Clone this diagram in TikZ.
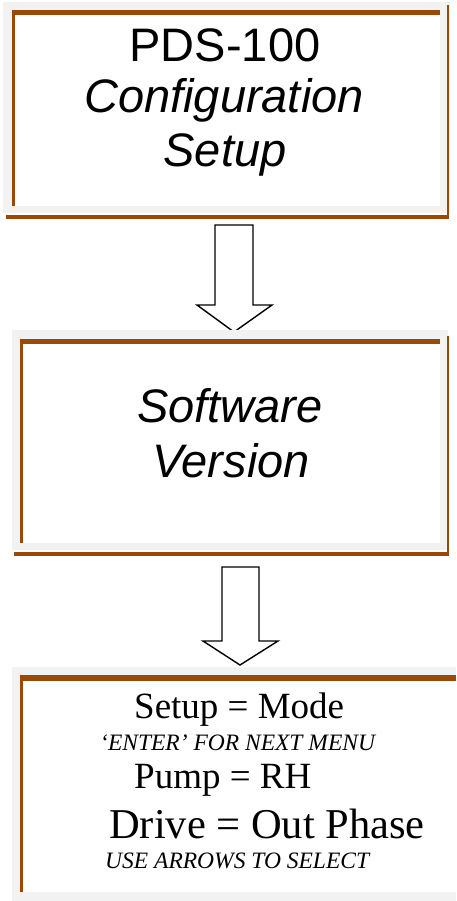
\documentclass[tikz,border=0pt]{standalone}
\usepackage{fontspec}
\setmainfont{Liberation Sans}
\newfontfamily\serifx{Liberation Serif}
\definecolor{brn}{HTML}{984807}
\definecolor{bgg}{HTML}{F2F2F2}
\tikzset{
  panel/.style={fill=bgg, draw=none, inner sep=0, anchor=north west},
  inner/.style={fill=white},
  rim/.style={fill=brn},
  blockarrow/.style={draw=black, fill=white, line width=1.4pt, line join=miter},
  txt/.style={inner sep=0, anchor=base},
  ltxt/.style={inner sep=0, anchor=base west}
}
\begin{document}
\begin{tikzpicture}[x=1pt,y=-1pt]
\useasboundingbox (0,0) rectangle (456,901);
\fill[white] (0,0) rectangle (456,901);
% ---- box 1
\node[panel, minimum width=447pt, minimum height=211pt] (b1) at (3,2) {};
\fill[inner] (14,13) rectangle (440,206);
\fill[rim] (12,10) rectangle (440,15);
\fill[rim] (12,10) rectangle (15,206);
\fill[rim] (6,215) rectangle (449,219);
\fill[rim] (447,5) rectangle (449,219);
\node[txt, font=\fontsize{47}{53}\selectfont] (t1a) at (225,62) {PDS-100};
\node[txt, font=\fontsize{47}{53}\selectfont\itshape] (t1b) at (224,113) {Configuration};
\node[txt, font=\fontsize{47}{53}\selectfont\itshape] (t1c) at (225,167) {Setup};
% ---- arrow 1
\draw[blockarrow] (215,225) -- (253,225) -- (253,305) -- (272,305) -- (234,332) -- (197,305) -- (215,305) -- cycle;
% ---- box 2
\node[panel, minimum width=436pt, minimum height=220pt] (b2) at (12,330) {};
\fill[inner] (22,344) rectangle (440,543);
\fill[rim] (20,339) rectangle (440,344);
\fill[rim] (20,339) rectangle (23,543);
\fill[rim] (14,552) rectangle (449,556);
\fill[rim] (447,336) rectangle (449,556);
\node[txt, font=\fontsize{47}{53}\selectfont\itshape] (t2a) at (230,422) {Software};
\node[txt, font=\fontsize{47}{53}\selectfont\itshape] (t2b) at (231,477) {Version};
% ---- arrow 2
\draw[blockarrow] (222,567) -- (259,567) -- (259,641) -- (278,641) -- (240,665) -- (203,641) -- (222,641) -- cycle;
% ---- box 3
\node[panel, minimum width=444pt, minimum height=234pt] (b3) at (12,667) {};
\fill[inner] (23,681) rectangle (456,892);
\fill[rim] (20,675) rectangle (456,681);
\fill[rim] (20,675) rectangle (23,892);
\node[ltxt, font=\serifx\fontsize{37}{40}\selectfont] (t3a) at (134,718) {Setup = Mode};
\node[ltxt, font=\serifx\fontsize{23.5}{26}\selectfont\itshape] (t3b) at (100,750) {‘ENTER’ FOR NEXT MENU};
\node[ltxt, font=\serifx\fontsize{37}{40}\selectfont] (t3c) at (134,788) {Pump = RH};
\node[ltxt, font=\serifx\fontsize{42.5}{45}\selectfont] (t3d) at (109,838) {Drive = Out Phase};
\node[ltxt, font=\serifx\fontsize{23.5}{26}\selectfont\itshape] (t3e) at (105,868) {USE ARROWS TO SELECT};
\end{tikzpicture}
\end{document}
